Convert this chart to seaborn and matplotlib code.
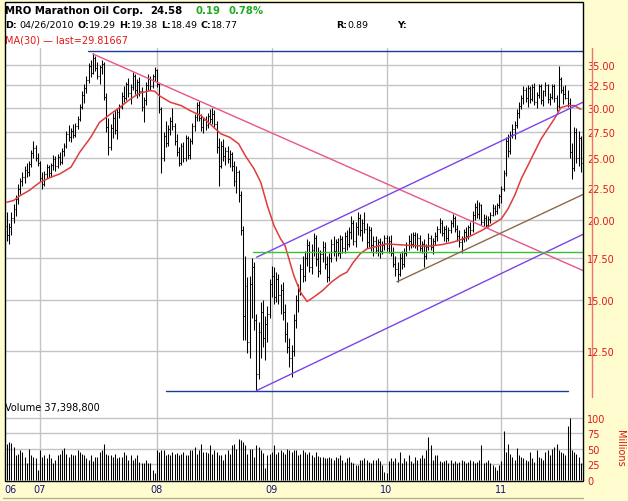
import pandas as pd
import seaborn as sns
import matplotlib.pyplot as plt
import matplotlib.dates as mdates
from matplotlib.patches import Rectangle
from matplotlib.lines import Line2D
from matplotlib.ticker import FixedLocator, FixedFormatter, NullLocator

sns.set_style("white")
plt.rcParams['font.family'] = ['DejaVu Sans']

# weekly bars, first one on this date
first_week = "2006-09-18"

opens = [
    19.6, 19.0, 19.5, 20.2, 20.8, 21.6, 22.4, 23.0, 23.4, 24.0,
    23.8, 24.5, 25.5, 25.9, 25.0, 24.6, 23.3, 22.8, 23.6, 24.2,
    23.7, 24.4, 24.9, 24.3, 25.1, 24.7, 25.7, 26.1, 27.3, 27.0,
    27.6, 27.2, 28.1, 28.8, 30.1, 31.4, 32.2, 33.1, 34.8, 34.0,
    35.9, 34.6, 33.6, 34.7, 35.1, 31.2, 28.0, 26.0, 27.9, 28.9,
    27.7, 29.5, 30.1, 31.3, 31.0, 32.6, 31.6, 32.3, 33.6, 32.0,
    32.9, 31.8, 30.1, 30.8, 32.5, 33.3, 32.4, 33.6, 34.3, 32.6,
    29.8, 25.0, 27.1, 26.4, 27.8, 28.6, 28.1, 26.6, 25.6, 24.6,
    26.1, 25.0, 26.9, 25.3, 26.6, 28.1, 29.0, 30.3, 28.9, 28.0,
    28.7, 28.2, 29.1, 28.8, 29.3, 28.3, 26.0, 24.3, 26.1, 25.2,
    25.7, 24.9, 25.4, 24.3, 23.0, 23.8, 21.9, 19.3, 14.2, 15.8,
    12.9, 15.9, 16.9, 14.0, 11.5, 13.4, 14.4, 13.1, 13.8, 14.3,
    15.9, 16.4, 15.2, 16.2, 15.3, 15.6, 14.4, 13.3, 12.7, 12.2,
    12.5, 14.0, 15.0, 15.5, 16.8, 16.4, 17.5, 18.3, 16.9, 18.0,
    18.8, 17.4, 16.7, 17.7, 18.2, 17.1, 16.3, 17.5, 18.4, 17.9,
    18.5, 17.8, 18.7, 18.1, 18.9, 18.4, 19.2, 19.8, 18.6, 19.5,
    20.2, 19.3, 19.8, 19.4, 18.5, 19.3, 18.3, 18.6, 18.0, 18.5,
    17.9, 18.3, 18.8, 18.1, 18.6, 17.8, 17.1, 16.8, 16.5, 17.5,
    17.1, 17.8, 18.3, 18.6, 18.4, 19.0, 18.3, 18.8, 18.1, 18.4,
    17.6, 18.2, 18.8, 18.2, 18.6, 18.9, 19.4, 19.8, 19.1, 19.4,
    18.8, 19.3, 19.8, 20.2, 19.4, 18.9, 18.5, 18.7, 19.2, 18.9,
    19.5, 19.3, 20.4, 21.0, 20.5, 21.1, 19.9, 20.2, 19.7, 20.1,
    20.4, 20.9, 20.7, 21.1, 21.8, 22.4, 23.7, 26.6, 25.7, 27.2,
    27.8, 28.2, 29.4, 30.2, 31.0, 31.9, 31.1, 32.2, 30.9, 32.3,
    30.6, 31.4, 32.4, 30.8, 31.8, 32.5, 30.9, 31.2, 32.4, 31.0,
    30.2, 33.2, 32.0, 31.5, 31.1, 30.5, 25.6, 24.1, 27.5, 25.0,
    26.9,
]
highs = [
    20.6, 19.8, 20.6, 21.2, 21.9, 22.8, 23.3, 23.8, 24.3, 24.6,
    24.8, 25.8, 26.6, 26.2, 25.5, 24.8, 23.8, 23.9, 24.5, 24.4,
    24.6, 25.3, 25.2, 25.4, 25.6, 25.9, 26.4, 27.6, 28.2, 27.9,
    28.3, 28.4, 29.1, 30.4, 31.8, 32.6, 33.6, 35.2, 35.6, 36.5,
    36.1, 35.4, 35.0, 35.6, 35.3, 31.6, 28.9, 28.3, 29.4, 29.7,
    29.9, 30.4, 31.7, 32.4, 32.9, 33.4, 32.6, 34.1, 33.9, 33.2,
    33.5, 32.3, 31.2, 32.9, 33.8, 33.6, 33.9, 34.7, 34.5, 32.8,
    30.1, 27.5, 28.6, 28.2, 29.0, 30.0, 28.4, 27.3, 26.0, 26.4,
    26.5, 27.2, 27.1, 26.9, 28.4, 29.3, 30.6, 30.7, 29.3, 29.0,
    29.1, 29.4, 29.8, 29.9, 29.7, 28.6, 26.9, 26.6, 26.8, 26.0,
    26.1, 25.8, 25.6, 24.8, 24.3, 24.0, 22.2, 19.6, 17.6, 16.3,
    16.4, 17.5, 17.2, 14.3, 13.9, 14.9, 15.0, 14.2, 14.7, 16.2,
    17.0, 16.9, 16.6, 16.5, 15.9, 16.0, 14.8, 13.9, 13.1, 12.8,
    14.3, 15.3, 15.9, 17.1, 17.6, 17.9, 18.7, 18.6, 18.4, 19.1,
    19.0, 18.2, 18.0, 18.6, 18.5, 17.6, 17.8, 18.7, 18.9, 18.7,
    18.8, 19.0, 18.9, 19.2, 19.3, 19.5, 20.3, 20.0, 19.9, 20.6,
    20.5, 20.1, 20.6, 19.8, 19.6, 19.5, 18.9, 18.9, 18.7, 18.8,
    18.6, 19.0, 19.0, 18.9, 19.0, 18.2, 17.6, 17.2, 17.8, 17.9,
    18.1, 18.5, 19.0, 19.1, 19.2, 19.2, 19.1, 19.0, 18.6, 18.7,
    18.4, 19.1, 19.0, 18.8, 19.2, 19.6, 20.2, 20.0, 19.6, 19.7,
    19.5, 20.0, 20.5, 20.3, 19.7, 19.3, 18.9, 19.4, 19.5, 19.7,
    19.9, 20.7, 21.3, 21.5, 21.4, 21.2, 20.5, 20.4, 20.3, 20.6,
    21.2, 21.1, 21.3, 22.0, 22.6, 24.0, 27.0, 27.3, 27.6, 28.3,
    28.6, 29.8, 30.6, 31.4, 32.4, 32.3, 32.5, 32.4, 32.6, 32.8,
    31.7, 32.7, 32.6, 32.0, 32.9, 32.7, 31.6, 32.7, 32.6, 31.4,
    34.8, 33.5, 32.4, 32.5, 32.0, 31.0, 26.4, 28.0, 27.9, 27.6,
    27.1,
]
lows = [
    18.6, 18.4, 19.0, 19.8, 20.3, 21.2, 22.0, 22.6, 22.9, 23.4,
    23.5, 24.2, 25.0, 24.8, 24.3, 23.0, 22.4, 22.6, 23.3, 23.4,
    23.4, 24.0, 23.9, 24.1, 24.4, 24.5, 25.2, 25.9, 26.6, 26.5,
    26.9, 27.0, 27.8, 28.6, 29.8, 30.5, 31.6, 32.8, 33.5, 33.8,
    34.2, 33.2, 32.6, 33.9, 30.8, 27.5, 25.3, 25.8, 26.9, 27.3,
    26.8, 28.9, 29.8, 30.6, 30.8, 31.2, 30.4, 31.9, 31.5, 31.0,
    31.3, 29.6, 28.5, 30.3, 31.9, 32.0, 32.2, 33.0, 32.3, 29.4,
    23.7, 24.8, 26.0, 26.1, 27.2, 27.7, 26.2, 25.2, 24.3, 24.4,
    24.7, 24.8, 24.9, 24.9, 26.3, 27.6, 28.6, 28.6, 27.6, 27.4,
    27.7, 27.9, 28.4, 28.3, 27.9, 25.5, 22.6, 24.1, 24.8, 24.4,
    24.6, 24.2, 23.9, 22.6, 22.1, 21.4, 19.0, 13.0, 13.0, 12.4,
    12.2, 14.1, 13.5, 10.85, 11.3, 12.2, 12.7, 12.1, 12.9, 14.1,
    15.2, 14.8, 14.9, 14.8, 14.3, 14.0, 12.9, 12.4, 11.8, 11.4,
    12.3, 13.6, 14.4, 15.3, 16.0, 16.1, 17.0, 16.6, 16.5, 17.6,
    17.0, 16.3, 16.5, 17.2, 16.8, 16.0, 16.1, 17.2, 17.6, 17.3,
    17.6, 17.5, 17.8, 17.8, 18.0, 18.2, 18.7, 18.3, 18.2, 19.0,
    18.9, 18.6, 19.1, 18.1, 18.2, 17.9, 17.6, 17.8, 17.6, 17.5,
    17.7, 18.0, 17.9, 17.8, 17.6, 16.9, 16.4, 16.0, 16.4, 16.8,
    16.9, 17.6, 18.0, 18.1, 18.2, 18.1, 18.0, 17.9, 17.8, 16.9,
    17.4, 18.0, 18.0, 17.7, 18.3, 18.6, 19.1, 18.9, 18.6, 18.5,
    18.6, 19.1, 19.5, 19.2, 18.6, 18.2, 17.8, 18.5, 18.6, 18.7,
    19.0, 19.2, 20.0, 20.2, 20.1, 19.7, 19.6, 19.5, 19.5, 19.8,
    20.3, 20.4, 20.5, 20.9, 21.3, 22.2, 23.5, 25.1, 25.4, 26.9,
    26.8, 27.9, 28.9, 29.8, 30.4, 30.6, 30.1, 30.5, 30.7, 30.3,
    29.9, 31.0, 30.4, 30.2, 31.3, 30.5, 30.3, 30.9, 30.6, 29.6,
    30.0, 31.6, 30.4, 30.9, 30.1, 25.0, 23.2, 23.9, 24.6, 24.3,
    23.8,
]
closes = [
    19.0, 19.5, 20.2, 20.8, 21.6, 22.4, 23.0, 23.4, 24.0, 23.8,
    24.5, 25.5, 25.9, 25.0, 24.6, 23.3, 22.8, 23.6, 24.2, 23.7,
    24.4, 24.9, 24.3, 25.1, 24.7, 25.7, 26.1, 27.3, 27.0, 27.6,
    27.2, 28.1, 28.8, 30.1, 31.4, 32.2, 33.1, 34.8, 34.0, 35.9,
    34.6, 33.6, 34.7, 35.1, 31.2, 28.0, 26.0, 27.9, 28.9, 27.7,
    29.5, 30.1, 31.3, 31.0, 32.6, 31.6, 32.3, 33.6, 32.0, 32.9,
    31.8, 30.1, 30.8, 32.5, 33.3, 32.4, 33.6, 34.3, 32.6, 29.8,
    25.0, 27.1, 26.4, 27.8, 28.6, 28.1, 26.6, 25.6, 24.6, 26.1,
    25.0, 26.9, 25.3, 26.6, 28.1, 29.0, 30.3, 28.9, 28.0, 28.7,
    28.2, 29.1, 28.8, 29.3, 28.3, 26.0, 24.3, 26.1, 25.2, 25.7,
    24.9, 25.4, 24.3, 23.0, 23.8, 21.9, 19.3, 14.2, 15.8, 12.9,
    15.9, 16.9, 14.0, 11.5, 13.4, 14.4, 13.1, 13.8, 14.3, 15.9,
    16.4, 15.2, 16.2, 15.3, 15.6, 14.4, 13.3, 12.7, 12.2, 12.5,
    14.0, 15.0, 15.5, 16.8, 16.4, 17.5, 18.3, 16.9, 18.0, 18.8,
    17.4, 16.7, 17.7, 18.2, 17.1, 16.3, 17.5, 18.4, 17.9, 18.5,
    17.8, 18.7, 18.1, 18.9, 18.4, 19.2, 19.8, 18.6, 19.5, 20.2,
    19.3, 19.8, 19.4, 18.5, 19.3, 18.3, 18.6, 18.0, 18.5, 17.9,
    18.3, 18.8, 18.1, 18.6, 17.8, 17.1, 16.8, 16.5, 17.5, 17.1,
    17.8, 18.3, 18.6, 18.4, 19.0, 18.3, 18.8, 18.1, 18.4, 17.6,
    18.2, 18.8, 18.2, 18.6, 18.9, 19.4, 19.8, 19.1, 19.4, 18.8,
    19.3, 19.8, 20.2, 19.4, 18.9, 18.5, 18.7, 19.2, 18.9, 19.5,
    19.3, 20.4, 21.0, 20.5, 21.1, 19.9, 20.2, 19.7, 20.1, 20.4,
    20.9, 20.7, 21.1, 21.8, 22.4, 23.7, 26.6, 25.7, 27.2, 27.8,
    28.2, 29.4, 30.2, 31.0, 31.9, 31.1, 32.2, 30.9, 32.3, 30.6,
    31.4, 32.4, 30.8, 31.8, 32.5, 30.9, 31.2, 32.4, 31.0, 30.2,
    33.2, 32.0, 31.5, 31.1, 30.5, 25.6, 24.1, 27.5, 25.0, 26.9,
    24.58,
]
# weekly volume, millions of shares
volume_m = [
    57, 60, 59, 52, 39, 41, 47, 44, 36, 26,
    49, 39, 37, 34, 16, 47, 37, 39, 34, 41,
    34, 26, 32, 39, 41, 47, 51, 41, 36, 41,
    40, 39, 47, 44, 41, 39, 35, 31, 39, 30,
    36, 37, 44, 47, 57, 41, 40, 39, 36, 41,
    34, 36, 37, 44, 39, 32, 39, 31, 34, 39,
    28, 26, 27, 31, 26, 26, 16, 10, 47, 44,
    48, 47, 40, 41, 39, 44, 41, 43, 39, 41,
    44, 40, 39, 47, 47, 52, 41, 47, 57, 44,
    44, 43, 56, 41, 47, 44, 39, 39, 31, 41,
    47, 41, 55, 57, 49, 65, 64, 60, 55, 41,
    49, 49, 36, 55, 52, 47, 43, 18, 39, 41,
    44, 55, 41, 44, 47, 44, 41, 49, 47, 44,
    47, 48, 39, 41, 47, 44, 41, 44, 39, 36,
    44, 38, 36, 37, 35, 34, 37, 35, 32, 36,
    34, 39, 31, 28, 34, 37, 28, 26, 23, 24,
    31, 32, 34, 31, 28, 26, 32, 31, 35, 30,
    23, 12, 10, 30, 34, 30, 35, 28, 44, 26,
    34, 30, 39, 30, 27, 36, 31, 34, 39, 35,
    47, 69, 55, 31, 39, 39, 30, 28, 30, 32,
    26, 31, 27, 30, 26, 28, 32, 30, 26, 28,
    32, 30, 27, 28, 31, 56, 26, 28, 31, 27,
    23, 20, 15, 23, 30, 78, 44, 58, 41, 37,
    32, 51, 39, 37, 34, 31, 30, 44, 35, 28,
    48, 37, 34, 32, 44, 47, 40, 49, 52, 58,
    48, 44, 43, 40, 87, 100, 48, 44, 41, 37,
    26,
]

# MA(30) at these bar numbers
ma_week = [0, 3, 6, 10, 15, 20, 24, 29, 33, 38, 42, 47, 51, 56, 60, 65, 67,
           69, 74, 79, 83, 88, 92, 97, 101, 105, 108, 112, 115, 118, 121, 124,
           126, 130, 133, 136, 139, 143, 147, 151, 154, 157, 160, 163, 168,
           172, 177, 184, 191, 197, 202, 209, 215, 219, 224, 227, 230, 233,
           236, 239, 242, 245, 248, 251, 254, 257, 260]
ma_value = [21.35, 21.48, 21.86, 22.26, 22.94, 23.36, 23.64, 24.21, 25.55,
            26.96, 28.46, 29.32, 30.0, 30.94, 31.58, 31.88, 31.81, 31.31,
            30.58, 30.21, 29.67, 29.14, 28.29, 27.29, 26.96, 26.33, 25.24,
            24.06, 22.94, 21.09, 19.63, 18.71, 18.27, 16.40, 15.45, 14.94,
            15.18, 15.54, 16.02, 16.40, 16.60, 17.21, 17.73, 18.05, 18.23,
            18.38, 18.33, 18.27, 18.23, 18.33, 18.49, 18.83, 19.28, 19.63,
            20.11, 20.84, 21.86, 23.22, 24.35, 25.55, 26.80, 27.78, 28.80,
            30.0, 30.21, 30.21, 29.82]

# drawn trend lines
trend_start = ["2007-06-02", "2008-02-03", "2007-06-18", "2008-11-18",
               "2008-11-18", "2008-11-06", "2010-02-06"]
trend_start_price = [36.8, 10.83, 36.37, 17.52, 10.85, 17.84, 16.04]
trend_end = ["2011-09-19", "2011-08-02", "2011-09-19", "2011-09-19",
             "2011-09-19", "2011-09-19", "2011-09-19"]
trend_end_price = [36.8, 10.83, 16.7, 30.58, 19.02, 17.84, 21.95]
trend_colors = ["#1c3c9c", "#1c3c9c", "#e8558a", "#7b45e6", "#7b45e6",
                "#3cc03c", "#8a6a4a"]

price_ticks = [12.5, 15, 17.5, 20, 22.5, 25, 27.5, 30, 32.5, 35]
vol_ticks = [0, 25, 50, 75, 100]
years = [2007, 2008, 2009, 2010, 2011]

RED = "#e01818"
GRID = "#c4c4c4"
W, H = 628, 502
fig = plt.figure(figsize=(W / 100, H / 100), dpi=100, facecolor="#fffdd0")


def fx(px):
    return px / W


def fy(py):
    return 1 - py / H


# white chart box
fig.patches.append(Rectangle((fx(5), fy(482)), fx(583) - fx(5), fy(3) - fy(482),
                             transform=fig.transFigure, facecolor="white",
                             edgecolor="none", zorder=-5))

ax = fig.add_axes([fx(5), fy(397), fx(583) - fx(5), fy(49) - fy(397)])
axv = fig.add_axes([fx(5), fy(482), fx(583) - fx(5), fy(397) - fy(482)])

dates = pd.date_range(first_week, periods=len(closes), freq="7D")
tick = pd.Timedelta(days=3)
xmin, xmax = pd.Timestamp("2006-09-12"), pd.Timestamp("2011-09-19")
year_lines = [dates[dates.year == y][0] for y in years]

for a in (ax, axv):
    a.set_facecolor("none")
    a.set_xlim(xmin, xmax)
    for s in a.spines.values():
        s.set_visible(False)
    for d in year_lines:
        a.axvline(d, color=GRID, lw=1, zorder=0)

# price panel
ax.set_yscale("log")
ax.set_ylim(10.64, 37.16)
for p in price_ticks:
    ax.axhline(p, color=GRID, lw=1, zorder=0)
ax.vlines(dates, lows, highs, color="black", lw=0.75, zorder=2)
ax.hlines(opens, dates - tick, dates, color="black", lw=0.75, zorder=2)
ax.hlines(closes, dates, dates + tick, color="black", lw=0.75, zorder=2)
sns.lineplot(x=dates[ma_week], y=ma_value, ax=ax, color="#e03c3c", lw=1.1, zorder=4)
for s, ps, e, pe, c in zip(trend_start, trend_start_price, trend_end,
                           trend_end_price, trend_colors):
    ax.plot([pd.Timestamp(s), pd.Timestamp(e)], [ps, pe], color=c, lw=1, zorder=5)

ax.yaxis.set_major_locator(FixedLocator(price_ticks))
ax.yaxis.set_major_formatter(FixedFormatter([f"{p:.2f}" for p in price_ticks]))
ax.yaxis.set_minor_locator(NullLocator())
ax.yaxis.tick_right()
ax.tick_params(axis="y", length=0, pad=2.9, labelsize=7, labelcolor=RED)
ax.tick_params(axis="x", length=0, labelbottom=False)
ax.set_xlabel("")
ax.set_ylabel("")

# volume panel
axv.set_ylim(-2.4, 134.7)
for v in vol_ticks[1:]:
    axv.axhline(v, color=GRID, lw=1, zorder=0)
axv.vlines(dates, 0, volume_m, color="black", lw=0.75, zorder=2)
axv.yaxis.tick_right()
axv.set_yticks(vol_ticks, [str(v) for v in vol_ticks])
axv.tick_params(axis="y", length=0, pad=2.9, labelsize=7, labelcolor=RED)
xt = [pd.Timestamp("2006-09-28")] + year_lines
axv.set_xticks(mdates.date2num(xt), ["06"] + [f"{y % 100:02d}" for y in years])
axv.tick_params(axis="x", length=0, pad=2, labelsize=7, labelcolor="#14147a")

# frame and axis rules
fig.patches.append(Rectangle((fx(5), fy(482)), fx(583) - fx(5), fy(3) - fy(482),
                             transform=fig.transFigure, facecolor="none",
                             edgecolor="black", lw=1, zorder=20))
fig.add_artist(Line2D([fx(592), fx(592)], [fy(49), fy(398)], color="#f07070", lw=1))
fig.add_artist(Line2D([fx(3), fx(583)], [fy(499), fy(499)], color="#b0b090", lw=1))

fig.text(fx(620), fy(448), "Millions", rotation=270, color=RED, fontsize=7,
         ha="center", va="center")
fig.text(fx(5), fy(408), "Volume 37,398,800", color="black", fontsize=7,
         ha="left", va="center")

# header
renderer = fig.canvas.get_renderer()


def write(x, y, parts, size=7):
    for s, bold, color, gap in parts:
        t = fig.text(fx(x), fy(y), s, fontsize=size, color=color,
                     fontweight="bold" if bold else "normal", ha="left", va="center")
        x = t.get_window_extent(renderer).x1 + gap
    return x


write(5, 10.5, [("MRO Marathon Oil Corp.", True, "black", 7),
                ("24.58", True, "black", 13),
                ("0.19", True, "#22a822", 8),
                ("0.78%", True, "#22a822", 0)], size=7.3)
write(5, 25.5, [("D:", True, "black", 3), ("04/26/2010", False, "black", 3),
                ("O:", True, "black", 0), ("19.29", False, "black", 3),
                ("H:", True, "black", 0), ("19.38", False, "black", 3),
                ("L:", True, "black", 0), ("18.49", False, "black", 3),
                ("C:", True, "black", 0), ("18.77", False, "black", 0)], size=6.8)
write(336, 25.5, [("R:", True, "black", 0), ("0.89", False, "black", 0)], size=6.8)
write(397, 25.5, [("Y:", True, "black", 0)], size=6.8)
write(5, 40.5, [("MA(30) \u2014 last=29.81667", False, RED, 0)], size=7)

fig.savefig("out.png", dpi=100, facecolor=fig.get_facecolor())
